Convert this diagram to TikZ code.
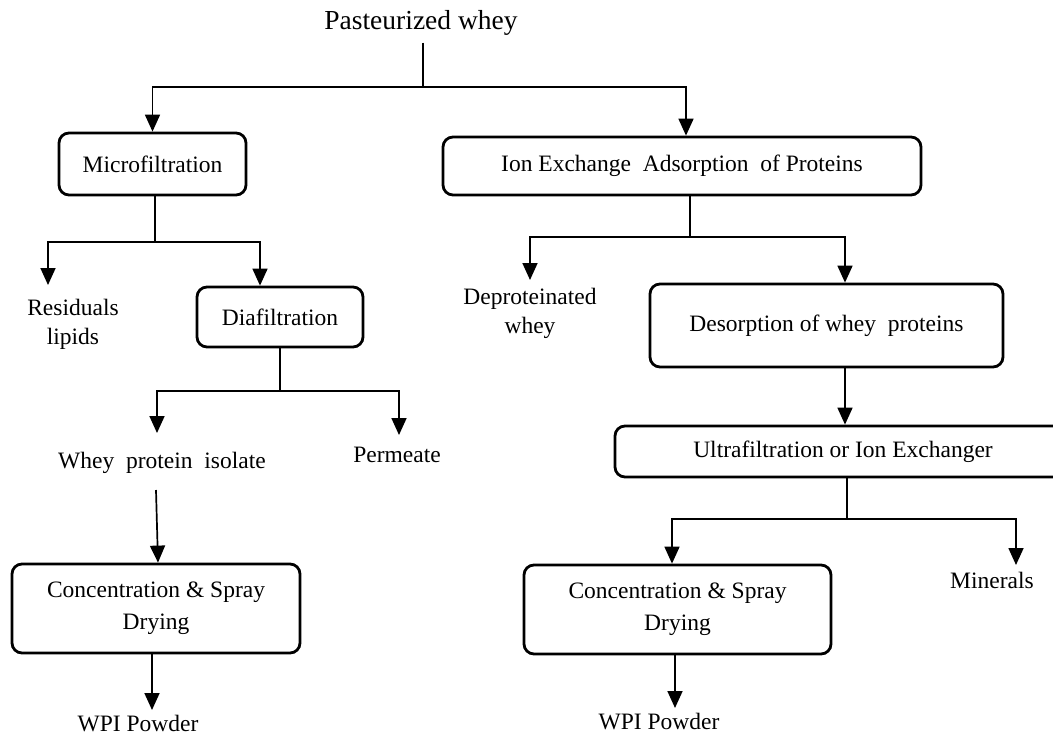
\documentclass[tikz,border=0pt]{standalone}
\usepackage{fontspec}
\setmainfont{Liberation Serif}
\usetikzlibrary{arrows.meta}
\begin{document}
\begin{tikzpicture}[x=1pt,y=-1pt,
  box/.style={draw, line width=2.8pt, rounded corners=10pt, inner sep=0pt, align=center,
              font=\fontsize{23.5pt}{32pt}\selectfont},
  lbl/.style={inner sep=0pt, align=center, font=\fontsize{23.5pt}{29pt}\selectfont},
  conn/.style={line width=1.7pt},
  arr/.style={conn, -{Triangle[width=15pt,length=17pt]}}]
\useasboundingbox (0,0) rectangle (1053,740);
\clip (0,0) rectangle (1053,740);

% process boxes
\node[box, minimum width=187pt, minimum height=62pt] (micro) at (152.5,164) {Microfiltration};
\node[box, minimum width=478pt, minimum height=58pt] (ion) at (682,166) {Ion Exchange\ \ Adsorption\ \ of Proteins};
\node[box, minimum width=166pt, minimum height=60pt] (dia) at (280,317) {Diafiltration};
\node[box, minimum width=353pt, minimum height=83pt] (desorp) at (826.5,325.5) {Desorption of whey\ \ proteins};
\node[box, minimum width=456pt, minimum height=51pt] (ultra) at (843,451.5) {Ultrafiltration or Ion Exchanger};
\node[box, minimum width=288pt, minimum height=89pt] (concL) at (156,608.5) {Concentration \& Spray\\Drying};
\node[box, minimum width=307pt, minimum height=89pt] (concR) at (677.5,609.5) {Concentration \& Spray\\Drying};

% free labels
\node[lbl, font=\fontsize{27.5pt}{30pt}\selectfont, inner ysep=7pt] (past) at (421,23) {Pasteurized whey};
\node[lbl] (resid) at (73,324) {Residuals\\lipids};
\node[lbl] (dep) at (530,313) {Deproteinated\\whey};
\node[lbl] (iso) at (162,463) {Whey\ \ protein\ \ isolate};
\node[lbl] (perm) at (397,455) {Permeate};
\node[lbl] (minerals) at (992,580) {Minerals};
\node[lbl] (wpiL) at (138,724) {WPI Powder};
\node[lbl] (wpiR) at (659,722) {WPI Powder};

% junctions and arrow tips
\coordinate (j0) at (423,87);
\coordinate (j1) at (155,242);
\coordinate (j2) at (280,391);
\coordinate (j3) at (690,237);
\coordinate (j4) at (847,519);
\coordinate (tresid) at (48,285);
\coordinate (tiso) at (157,433);
\coordinate (tperm) at (399,435);
\coordinate (siso) at (156,490);
\coordinate (twpiL) at (152,710);
\coordinate (tdep) at (530,280);
\coordinate (tmin) at (1016,565);
\coordinate (twpiR) at (675,708);

% connectors
\draw[conn] (j0 |- past.south) -- (j0);
\draw[arr] (j0) -| (micro.north);
\draw[arr] (j0) -| ([xshift=4pt]ion.north);

\draw[conn] (j1 |- micro.south) -- (j1);
\draw[arr] (j1) -| (tresid);
\draw[arr] (j1) -| ([xshift=-20pt]dia.north);

\draw[conn] (dia.south) -- (j2);
\draw[arr] (j2) -| (tiso);
\draw[arr] (j2) -| (tperm);

\draw[arr] (siso) -- ([xshift=2pt]concL.north);
\draw[arr] ([xshift=-4pt]concL.south) -- (twpiL);

\draw[conn] (j3 |- ion.south) -- (j3);
\draw[arr] (j3) -| (tdep);
\draw[arr] (j3) -| ([xshift=18.5pt]desorp.north);

\draw[arr] ([xshift=18.5pt]desorp.south) -- ([xshift=18.5pt]desorp.south |- ultra.north);

\draw[conn] (j4 |- ultra.south) -- (j4);
\draw[arr] (j4) -| ([xshift=-5.5pt]concR.north);
\draw[arr] (j4) -| (tmin);

\draw[arr] ([xshift=-2.5pt]concR.south) -- (twpiR);
\end{tikzpicture}
\end{document}
